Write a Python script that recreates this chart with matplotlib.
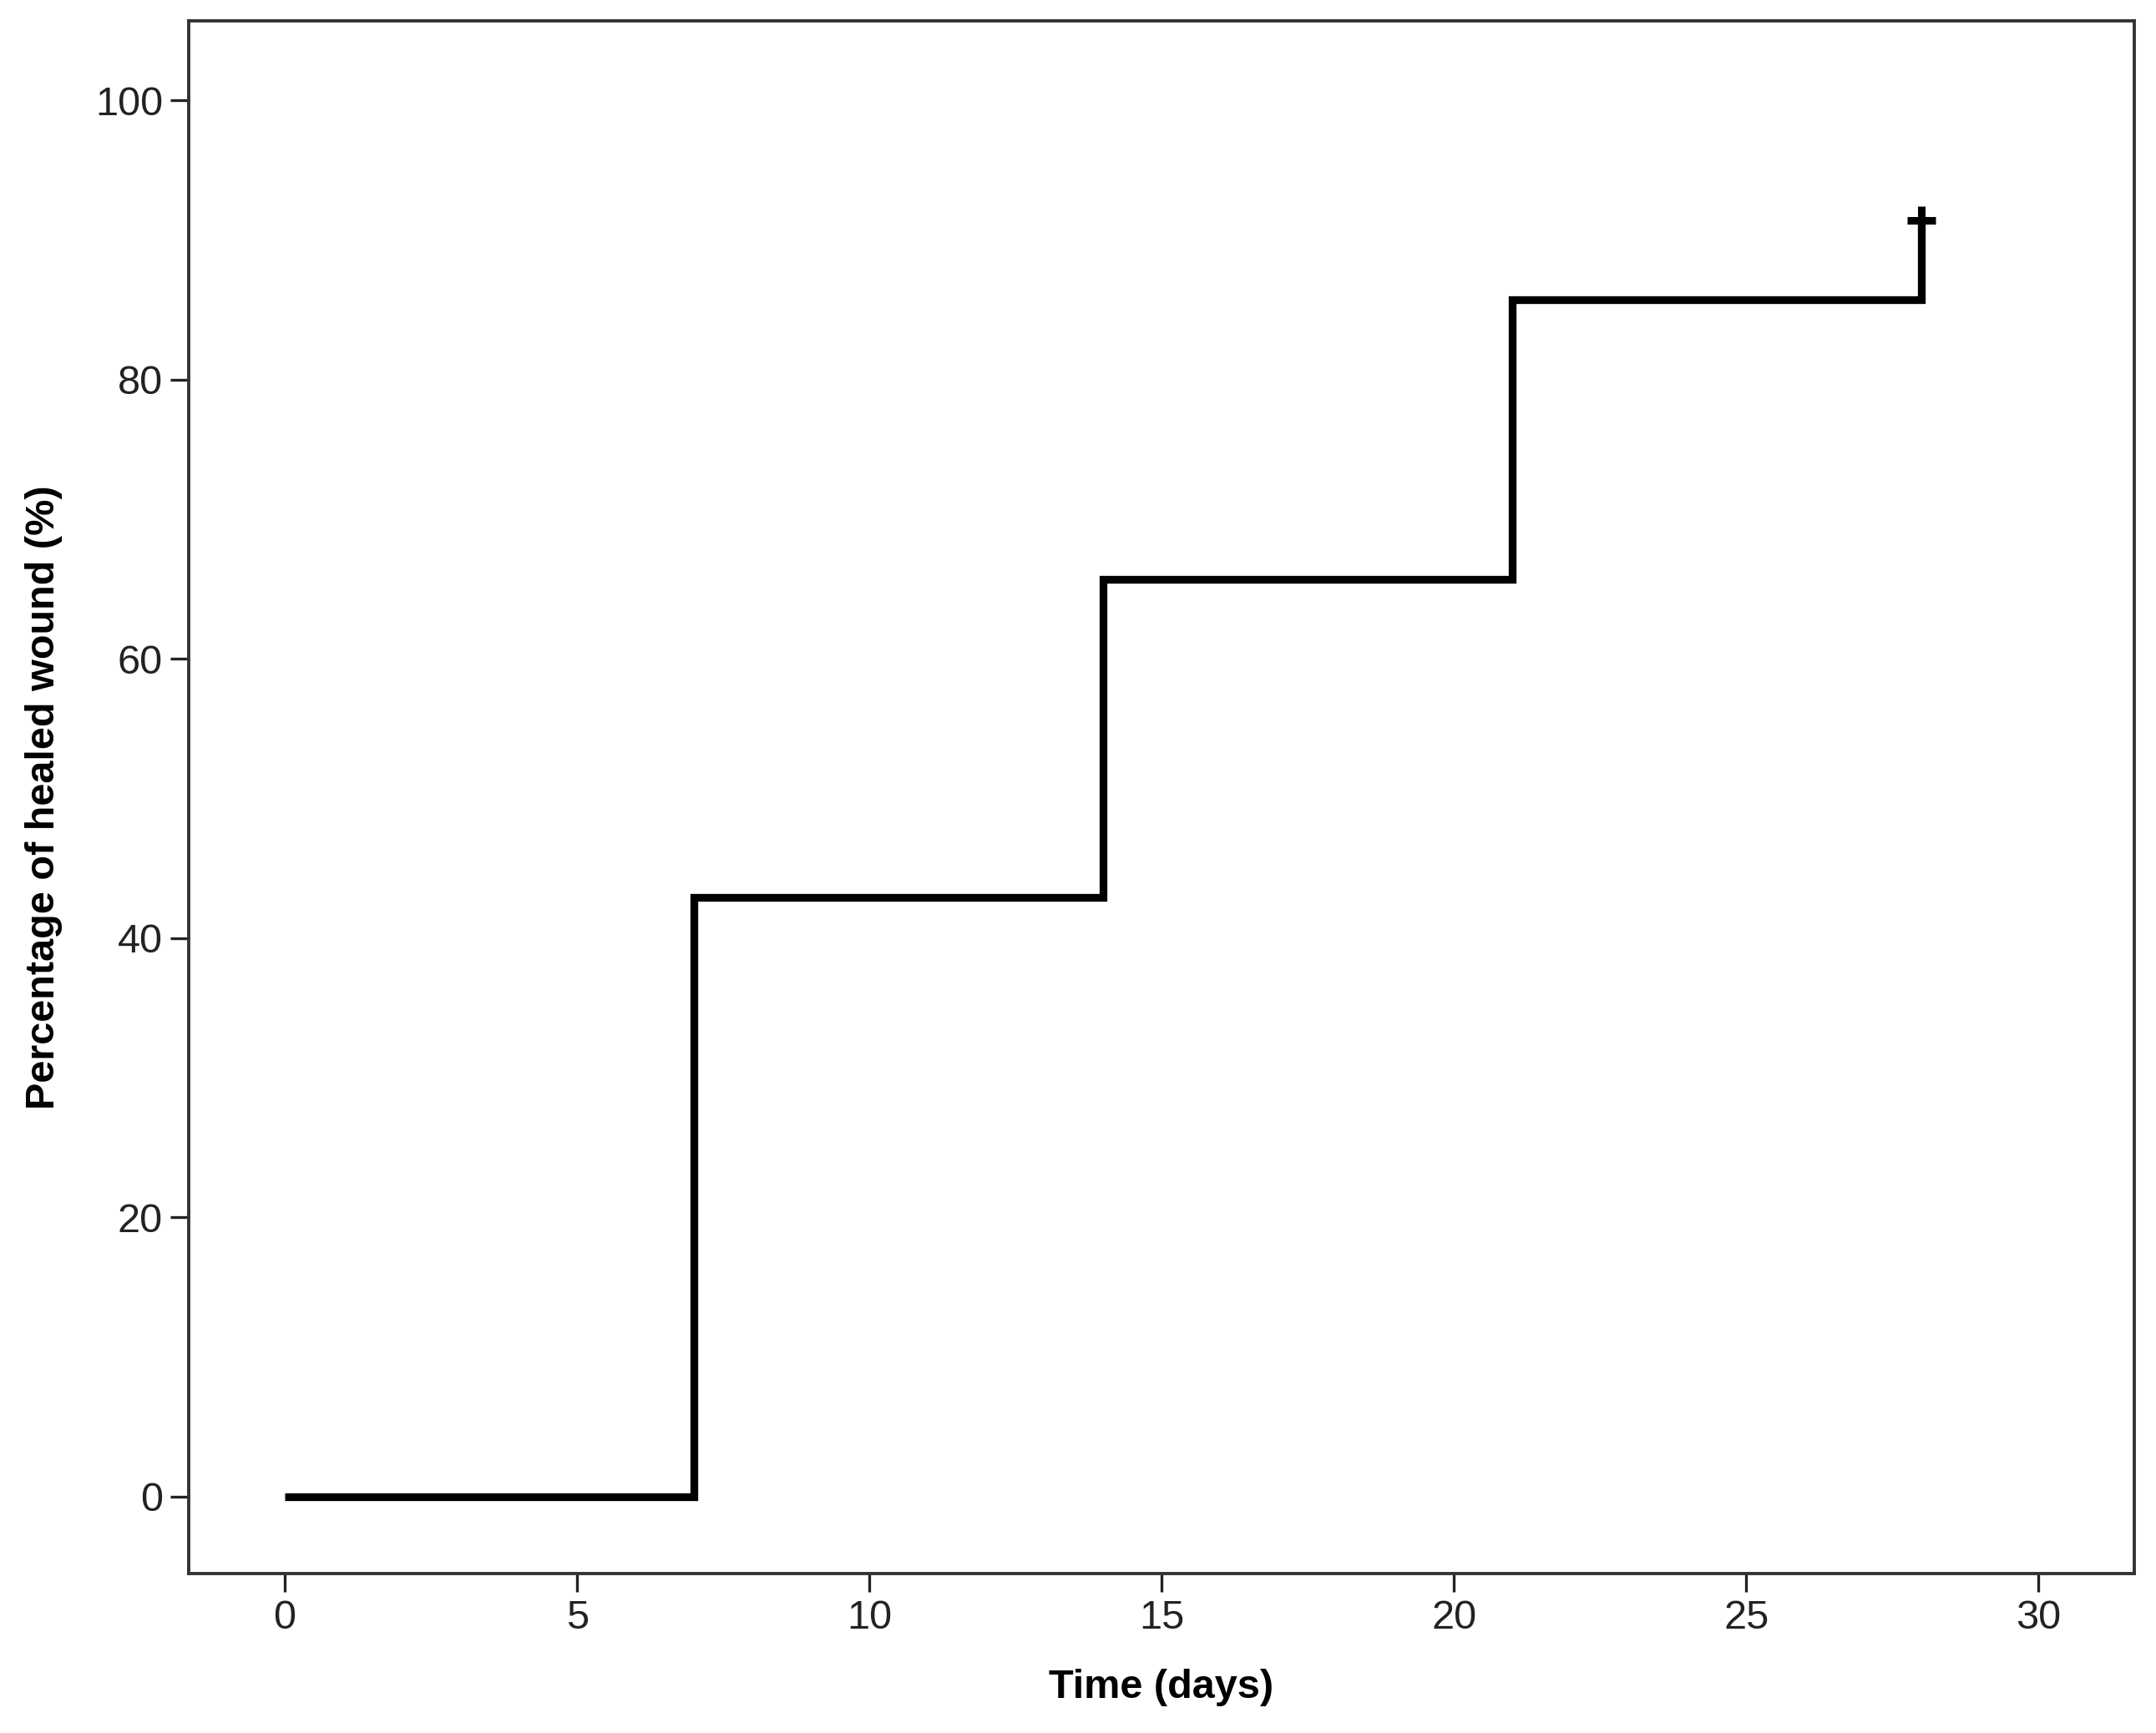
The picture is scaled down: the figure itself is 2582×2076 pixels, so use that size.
import matplotlib.pyplot as plt

# Kaplan-Meier style healing curve
days = [0, 7, 14, 21, 28]
healed = [0, 42.9, 65.7, 85.7, 91.4]
censor_day = [28]
censor_val = [91.4]

plt.rcParams['font.family'] = ['Liberation Sans', 'DejaVu Sans']

fig = plt.figure(figsize=(25.82, 20.76), dpi=100)
ax = fig.add_axes([225.6 / 2582, 1 - 1885 / 2076, (2556 - 225.6) / 2582, (1885 - 24.7) / 2076])

ax.step(days, healed, where='post', color='black', linewidth=6.7,
        solid_joinstyle='miter', solid_capstyle='butt')
ax.plot(censor_day, censor_val, marker='+', color='black', markersize=25,
        markeredgewidth=6.5, linestyle='none')

ax.set_xlim(-1.65, 31.64)
ax.set_ylim(-5.5, 105.7)
ax.set_xticks([0, 5, 10, 15, 20, 25, 30])
ax.set_yticks([0, 20, 40, 60, 80, 100])

for s in ax.spines.values():
    s.set_linewidth(2.8)
    s.set_color('#333333')

ax.tick_params(axis='both', direction='out', length=16, width=2.4, color='#222222',
               labelsize=35, labelcolor='#222222', pad=6)

ax.set_xlabel('Time (days)', fontsize=35, fontweight='bold', labelpad=28)
ax.set_ylabel('Percentage of healed wound (%)', fontsize=35, fontweight='bold', labelpad=28)

fig.savefig('out.png', dpi=100, facecolor='white')
